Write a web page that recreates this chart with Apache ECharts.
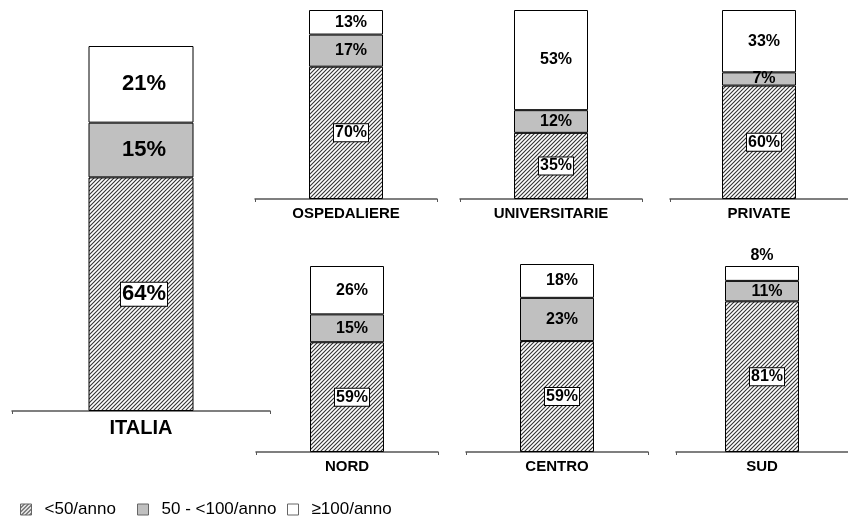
<!DOCTYPE html>
<html>
<head>
<meta charset="utf-8">
<script src="https://cdn.jsdelivr.net/npm/echarts@6/dist/echarts.min.js"></script>
<style>html,body{margin:0;padding:0;background:#fff;}#c{width:848px;height:529px;}</style>
</head>
<body>
<div id="c"></div>
<script>
const groups = ['ITALIA','OSPEDALIERE','UNIVERSITARIE','PRIVATE','NORD','CENTRO','SUD'];
const low = [64,70,35,60,59,59,81];
const mid = [15,17,12,7,15,23,11];
const high = [21,13,53,33,26,18,8];
const seriesNames = ['<50/anno','50 - <100/anno','≥100/anno'];

// layout: left, top, width, height
const layout = [
  [12,46,258,365],
  [255,10,182,189],
  [460,10,182,189],
  [670,10,182,189],
  [256,266,182,186],
  [466,264,182,188],
  [676,266,182,186]
];
const legendLeft = [15,132,282];

function hatch(){
  const c = document.createElement('canvas');
  c.width = 4; c.height = 4;
  const ctx = c.getContext('2d');
  ctx.fillStyle = '#fff'; ctx.fillRect(0,0,4,4);
  ctx.strokeStyle = '#333'; ctx.lineWidth = 1.1;
  ctx.beginPath();
  ctx.moveTo(0,4); ctx.lineTo(4,0);
  ctx.moveTo(-1,1); ctx.lineTo(1,-1);
  ctx.moveTo(3,5); ctx.lineTo(5,3);
  ctx.stroke();
  return c;
}
const pattern = {image: hatch(), repeat: 'repeat'};
const FF = 'Liberation Sans, Arial, sans-serif';

const grid=[], xAxis=[], yAxis=[], series=[];
groups.forEach((g,i)=>{
  const L = layout[i];
  const big = i===0;
  grid.push({left:L[0], top:L[1], width:L[2], height:L[3]});
  xAxis.push({type:'category', gridIndex:i, data:[g],
    axisLine:{lineStyle:{color:'#555', width:1.5}},
    axisTick:{show:true, length:3, lineStyle:{color:'#555'}},
    axisLabel:{fontWeight:'bold', fontSize: big?20:15, color:'#000', fontFamily:FF, margin:7}
  });
  yAxis.push({type:'value', gridIndex:i, min:0, max:100, show:false, splitLine:{show:false}});
  const fs = big?22:16;
  const off = big?[3,0]:[5,0];
  const bw = big?105:74;
  const base = {type:'bar', xAxisIndex:i, yAxisIndex:i, stack:'s'+i, barWidth:bw};
  series.push(Object.assign({}, base, {
    name:seriesNames[0],
    data:[low[i]],
    itemStyle:{color:pattern, borderColor:'#000', borderWidth:1},
    label:{show:true, position:'inside', formatter:'{c}%', fontWeight:'bold', fontSize:fs, color:'#000',
      fontFamily:FF, backgroundColor:'#fff', borderColor:'#000', borderWidth:1, padding:[1,1,0,1], offset:off}
  }));
  series.push(Object.assign({}, base, {
    name:seriesNames[1],
    data:[mid[i]],
    itemStyle:{color:'#c0c0c0', borderColor:'#000', borderWidth:1},
    label:{show:true, position:'inside', formatter:'{c}%', fontWeight:'bold', fontSize:fs, color:'#000',
      fontFamily:FF, offset:off}
  }));
  const hiData = (g==='SUD') ? [{value:high[i], label:{position:'top', distance:2, offset:[0,0]}}] : [high[i]];
  series.push(Object.assign({}, base, {
    name:seriesNames[2],
    data:hiData,
    itemStyle:{color:'#fff', borderColor:'#000', borderWidth:1},
    label:{show:true, position:'inside', formatter:'{c}%', fontWeight:'bold', fontSize:fs, color:'#000',
      fontFamily:FF, offset:off}
  }));
});

const legend = seriesNames.map((n,k)=>({
  data:[n], left:legendLeft[k], top:496, itemWidth:11, itemHeight:11, icon:'rect',
  itemStyle:{borderColor:'#666', borderWidth:1},
  textStyle:{fontSize:17, color:'#000', fontFamily:FF, padding:[0,0,0,8]}
}));

const chart = echarts.init(document.getElementById('c'), null, {renderer:'canvas'});
chart.setOption({
  animation:false,
  backgroundColor:'#fff',
  legend, grid, xAxis, yAxis, series
});
</script>
</body>
</html>
